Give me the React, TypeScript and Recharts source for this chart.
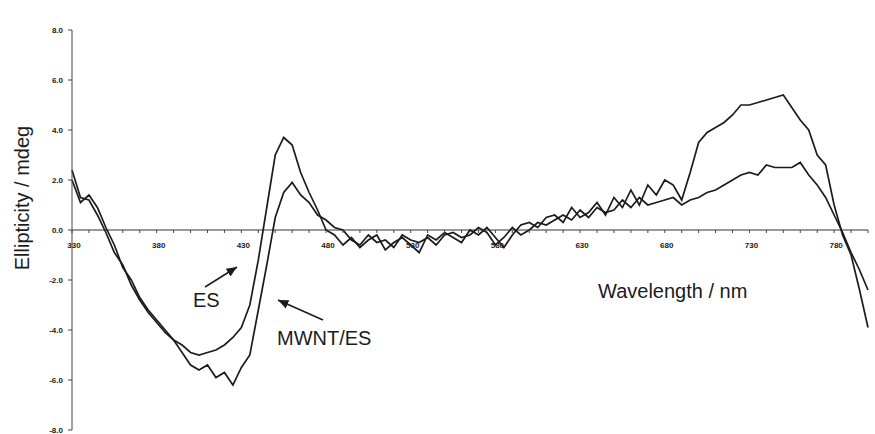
import * as React from 'react';
import { LineChart, Line, XAxis, YAxis, ReferenceLine } from 'recharts';

// wavelength (nm) sampled every 5 nm
const WAVELENGTH = [
  330, 335, 340, 345, 350, 355, 360, 365, 370, 375, 380, 385, 390, 395, 400, 405,
  410, 415, 420, 425, 430, 435, 440, 445, 450, 455, 460, 465, 470, 475, 480, 485,
  490, 495, 500, 505, 510, 515, 520, 525, 530, 535, 540, 545, 550, 555, 560, 565,
  570, 575, 580, 585, 590, 595, 600, 605, 610, 615, 620, 625, 630, 635, 640, 645,
  650, 655, 660, 665, 670, 675, 680, 685, 690, 695, 700, 705, 710, 715, 720, 725,
  730, 735, 740, 745, 750, 755, 760, 765, 770, 775, 780, 785, 790, 795, 800,
];

// ellipticity (mdeg), ES
const ES = [
  2.4, 1.3, 1.2, 0.6, -0.1, -0.9, -1.4, -2.2, -2.8, -3.3, -3.7, -4.1, -4.4, -4.6, -4.9, -5.0,
  -4.9, -4.8, -4.6, -4.3, -3.9, -3.0, -1.2, 0.9, 3.0, 3.7, 3.4, 2.3, 1.5, 0.8, 0.0, -0.2,
  -0.6, -0.3, -0.7, -0.4, -0.2, -0.8, -0.5, -0.3, -0.6, -0.9, -0.2, -0.4, -0.1, -0.3, -0.5, 0.0,
  -0.2, 0.1, -0.3, -0.7, -0.2, 0.2, 0.3, 0.1, 0.5, 0.6, 0.3, 0.9, 0.5, 0.7, 1.1, 0.6,
  1.3, 0.9, 1.6, 1.0, 1.8, 1.4, 2.0, 1.8, 1.2, 2.3, 3.5, 3.9, 4.1, 4.3, 4.6, 5.0,
  5.0, 5.1, 5.2, 5.3, 5.4, 4.9, 4.4, 4.0, 3.0, 2.6, 1.0, -0.2, -1.0, -2.4, -3.9,
];

// ellipticity (mdeg), MWNT/ES
const MWNT_ES = [
  2.0, 1.1, 1.4, 0.9, 0.1, -0.6, -1.5, -2.0, -2.7, -3.2, -3.6, -4.0, -4.4, -4.9, -5.4, -5.6,
  -5.4, -5.9, -5.7, -6.2, -5.5, -5.0, -3.2, -1.4, 0.5, 1.5, 1.9, 1.4, 1.1, 0.6, 0.4, 0.1,
  0.0, -0.4, -0.6, -0.2, -0.5, -0.4, -0.7, -0.2, -0.4, -0.5, -0.3, -0.6, -0.2, -0.1, -0.3, -0.2,
  0.1, -0.1, -0.6, -0.3, 0.1, -0.2, 0.0, 0.3, 0.2, 0.4, 0.6, 0.4, 0.8, 0.5, 0.9, 0.7,
  0.8, 1.2, 0.9, 1.3, 1.0, 1.1, 1.2, 1.3, 1.0, 1.2, 1.3, 1.5, 1.6, 1.8, 2.0, 2.2,
  2.3, 2.2, 2.6, 2.5, 2.5, 2.5, 2.7, 2.2, 1.8, 1.3, 0.6, -0.1, -0.9, -1.6, -2.4,
];

const X_TICKS = [
  330, 340, 350, 360, 370, 380, 390, 400, 410, 420, 430, 440, 450, 460, 470, 480,
  490, 500, 510, 520, 530, 540, 550, 560, 570, 580, 590, 600, 610, 620, 630, 640,
  650, 660, 670, 680, 690, 700, 710, 720, 730, 740, 750, 760, 770, 780, 790, 800,
];
const Y_TICKS = [-8, -6, -4, -2, 0, 2, 4, 6, 8];

const W = 875;
const H = 434;
const MARGIN = { top: 30, right: 7, bottom: 3, left: 0 };
const Y_MIN = -8;
const Y_MAX = 8;
const PLOT_H = H - MARGIN.top - MARGIN.bottom - 1;
// the wavelength axis sits on the zero line, not at the bottom
const ZERO_Y = MARGIN.top + (PLOT_H * Y_MAX) / (Y_MAX - Y_MIN);
const FONT = 'Arial, "Liberation Sans", sans-serif';
const INK = '#1c1c1c';

const data = WAVELENGTH.map((w, i) => ({ w, es: ES[i], mwnt: MWNT_ES[i] }));

function renderXTick(props: any) {
  const { x, payload } = props;
  if (x == null || !payload) return <g />;
  const v = payload.value as number;
  const major = (v - 330) % 50 === 0;
  return (
    <g key={`xt-${v}`}>
      <line x1={x} x2={x} y1={ZERO_Y} y2={ZERO_Y + 3} stroke="#444" strokeWidth={1} />
      {major && (
        <text
          x={x + 2}
          y={ZERO_Y + 18}
          textAnchor="middle"
          fontSize={8}
          fontWeight="bold"
          fontFamily={FONT}
          fill="#222"
        >
          {v}
        </text>
      )}
    </g>
  );
}

export default function App() {
  return (
    <div style={{ position: 'absolute', left: 0, top: 0, width: W, height: H, background: '#fff' }}>
      <LineChart width={W} height={H} data={data} margin={MARGIN}>
        <XAxis
          dataKey="w"
          type="number"
          domain={[330, 800]}
          ticks={X_TICKS}
          interval={0}
          height={1}
          axisLine={false}
          tickLine={false}
          tick={renderXTick}
        />
        <YAxis
          type="number"
          domain={[Y_MIN, Y_MAX]}
          ticks={Y_TICKS}
          interval={0}
          width={72}
          axisLine={{ stroke: '#444', strokeWidth: 1 }}
          tickLine={{ stroke: '#444' }}
          tickSize={4}
          tickMargin={5}
          tickFormatter={(v: number) => v.toFixed(1)}
          tick={{ fontSize: 8, fontWeight: 'bold', fill: '#222', fontFamily: FONT }}
        />
        <ReferenceLine y={0} stroke="#333" strokeWidth={1} />
        <Line
          type="linear"
          dataKey="es"
          stroke={INK}
          strokeWidth={1.7}
          dot={false}
          isAnimationActive={false}
        />
        <Line
          type="linear"
          dataKey="mwnt"
          stroke={INK}
          strokeWidth={1.7}
          dot={false}
          isAnimationActive={false}
        />
      </LineChart>
      <svg
        width={W}
        height={H}
        style={{ position: 'absolute', left: 0, top: 0, pointerEvents: 'none' }}
      >
        <defs>
          <marker id="head" markerWidth="8" markerHeight="8" refX="7" refY="4" orient="auto">
            <path d="M0,1 L7,4 L0,7 Z" fill={INK} />
          </marker>
        </defs>
        <text
          transform="translate(29,198) rotate(-90)"
          textAnchor="middle"
          fontSize={20}
          fontFamily={FONT}
          fill={INK}
        >
          Ellipticity / mdeg
        </text>
        <text x={598} y={298} fontSize={20} fontFamily={FONT} fill={INK}>
          Wavelength / nm
        </text>
        <text x={193} y={307} fontSize={20} fontFamily={FONT} fill={INK}>
          ES
        </text>
        <line x1={205} y1={287} x2={237} y2={267} stroke={INK} strokeWidth={1.5} markerEnd="url(#head)" />
        <text x={277} y={345} fontSize={20} fontFamily={FONT} fill={INK}>
          MWNT/ES
        </text>
        <line x1={323} y1={320} x2={278} y2={300} stroke={INK} strokeWidth={1.5} markerEnd="url(#head)" />
      </svg>
    </div>
  );
}
